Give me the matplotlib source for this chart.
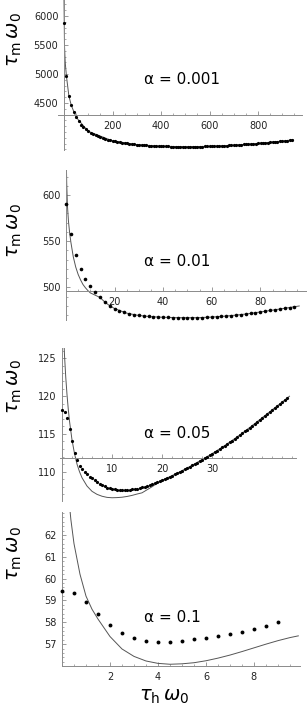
import numpy as np
import matplotlib.pyplot as plt
from matplotlib.ticker import MultipleLocator

# ---------------- data ----------------
# panel 1, alpha = 0.001 (dots every 10)
p1_dot_x = list(range(0, 950, 10))
p1_dot_y = [5885, 4966, 4626, 4460, 4345, 4255, 4185, 4128, 4082, 4044,
            4012, 3985, 3962, 3942, 3924, 3908, 3894, 3881, 3869, 3858,
            3848, 3839, 3831, 3823, 3816, 3809, 3803, 3797, 3792, 3787,
            3783, 3779, 3775, 3772, 3769, 3766, 3763, 3761, 3759, 3757,
            3755, 3754, 3752, 3751, 3750, 3749, 3748, 3748, 3747, 3747,
            3747, 3747, 3747, 3747, 3748, 3748, 3749, 3750, 3751, 3752,
            3753, 3755, 3756, 3758, 3760, 3762, 3764, 3766, 3768, 3771,
            3773, 3776, 3779, 3782, 3785, 3788, 3791, 3794, 3797, 3801,
            3804, 3808, 3811, 3815, 3819, 3823, 3827, 3831, 3835, 3840,
            3844, 3849, 3853, 3858, 3863]
p1_line_x = [0, 2, 5, 10, 20, 30, 50, 100, 200, 300, 400, 500, 600, 700, 800, 900, 945]
p1_line_y = [6300, 5500, 5200, 4966, 4626, 4460, 4255, 4012, 3848, 3783, 3755, 3747,
             3753, 3773, 3804, 3844, 3866]

# panel 2, alpha = 0.01 (dots every 2)
p2_dot_x = list(range(0, 96, 2))
p2_dot_y = [590, 558, 535, 520, 509, 501, 495, 489, 484, 480,
            477, 474.5, 473, 471.5, 470.5, 469.5, 469, 468.5, 468, 467.8,
            467.6, 467.4, 467.3, 467.2, 467.1, 467.1, 467.1, 467.2, 467.3, 467.5,
            467.8, 468.1, 468.5, 468.9, 469.4, 469.9, 470.5, 471.1, 471.8, 472.5,
            473.3, 474.1, 474.9, 475.7, 476.5, 477.3, 478.1, 479.0]
p2_line_x = [0.1, 0.3, 0.6, 1, 1.5, 2, 3, 4, 5, 6, 7, 8, 9, 10, 12, 14, 16, 18, 20,
             25, 30, 35, 40, 45, 50, 55, 60, 65, 70, 75, 80, 85, 90, 96]
p2_line_y = [640, 612, 588, 572, 559, 549, 533, 522, 514, 508, 503, 499.5, 496.5, 494,
             491.5, 489, 484, 480, 477, 472, 469.5, 468.2, 467.6, 467.2, 467.1, 467.2,
             467.8, 468.7, 469.9, 471.4, 473.3, 475.3, 477.3, 479.8]

# panel 3, alpha = 0.05 (dots every 0.5)
p3_dot_x = [i * 0.5 for i in range(91)]
p3_dot_y = [118.2, 117.9, 117.1, 115.7, 114.0, 112.5, 111.5, 110.8, 110.3, 109.95,
            109.65, 109.35, 109.1, 108.85, 108.6, 108.4, 108.2, 108.05, 107.9, 107.8,
            107.7, 107.65, 107.6, 107.58, 107.57, 107.57, 107.58, 107.6, 107.65, 107.7,
            107.77, 107.85, 107.93, 108.02, 108.12, 108.23, 108.35, 108.47, 108.6, 108.73,
            108.87, 109.01, 109.16, 109.31, 109.47, 109.63, 109.79, 109.96, 110.13, 110.3,
            110.48, 110.66, 110.84, 111.02, 111.21, 111.4, 111.59, 111.78, 111.97, 112.17,
            112.37, 112.58, 112.79, 113.0, 113.22, 113.44, 113.66, 113.89, 114.12, 114.35,
            114.59, 114.83, 115.07, 115.32, 115.57, 115.82, 116.08, 116.34, 116.6, 116.86,
            117.12, 117.38, 117.64, 117.9, 118.16, 118.42, 118.68, 118.94, 119.2, 119.46,
            119.72]
p3_line_x = [0.4, 0.5, 0.75, 1.0, 1.25, 1.5, 2.0, 2.5, 3.0, 3.5, 4.0, 5, 6, 7, 8, 9, 10,
             11, 12, 13, 14, 15, 16, 17, 18, 19, 20, 22, 24, 26, 28, 30, 32, 34, 36, 38,
             40, 42, 44, 45.5]
p3_line_y = [127.0, 125.4, 122.5, 120.2, 118.3, 116.7, 114.2, 112.4, 111.0, 110.0, 109.2,
             108.1, 107.4, 107.0, 106.75, 106.6, 106.55, 106.57, 106.62, 106.72, 106.86,
             107.04, 107.2, 107.6, 108.0, 108.45, 108.87, 109.47, 110.13, 110.84, 111.59,
             112.37, 113.22, 114.12, 115.07, 116.08, 117.12, 118.16, 119.2, 119.98]

# panel 4, alpha = 0.1 (dots every 0.5)
p4_dot_x = [i * 0.5 for i in range(19)]
p4_dot_y = [59.43, 59.36, 58.91, 58.38, 57.87, 57.52, 57.28, 57.14, 57.08, 57.08,
            57.14, 57.22, 57.28, 57.37, 57.46, 57.56, 57.69, 57.83, 58.0]
p4_line_x = [0.3, 0.37, 0.5, 0.75, 1, 1.25, 1.5, 2, 2.5, 3, 3.5, 4, 4.5, 5, 5.5, 6, 6.5,
             7, 7.5, 8, 8.5, 9, 9.5, 9.85]
p4_line_y = [63.5, 62.7, 61.6, 60.2, 59.2, 58.6, 58.15, 57.35, 56.78, 56.44, 56.23, 56.12,
             56.08, 56.1, 56.15, 56.24, 56.36, 56.5, 56.66, 56.83, 57.0, 57.16, 57.3, 57.38]

alphas = ['α = 0.001', 'α = 0.01', 'α = 0.05', 'α = 0.1']

# ---------------- layout (pixels) ----------------
W, H = 307, 713
fig = plt.figure(figsize=(W / 100, H / 100), dpi=100)

panels = [
    # left, right, top, bottom px; xlim; ylim; x-axis height; ticks
    dict(box=(58, 302, 0, 150), xlim=(-24.7, 981), ylim=(3690, 6276), y0=4290,
         xt=[200, 400, 600, 800], yt=[4500, 5000, 5500, 6000], xm=50, ym=100,
         dx=p1_dot_x, dy=p1_dot_y, lx=p1_line_x, ly=p1_line_y, ms=2.3,
         txt=(144, 80), ylab=40),
    dict(box=(66, 307, 170, 320), xlim=(0, 99.2), ylim=(464.6, 627.1), y0=495.5,
         xt=[20, 40, 60, 80], yt=[500, 550, 600], xm=5, ym=10,
         dx=p2_dot_x, dy=p2_dot_y, lx=p2_line_x, ly=p2_line_y, ms=2.6,
         txt=(144, 262), ylab=231),
    dict(box=(60, 296, 348, 501), xlim=(-0.4, 46.8), ylim=(106.12, 126.36), y0=111.77,
         xt=[10, 20, 30], yt=[110, 115, 120, 125], xm=2, ym=1,
         dx=p3_dot_x, dy=p3_dot_y, lx=p3_line_x, ly=p3_line_y, ms=2.3,
         txt=(144, 433), ylab=387),
    dict(box=(62, 300, 512, 666), xlim=(0, 9.92), ylim=(56.0, 63.05), y0=56.0,
         xt=[2, 4, 6, 8], yt=[57, 58, 59, 60, 61, 62], xm=0.5, ym=0.2,
         dx=p4_dot_x, dy=p4_dot_y, lx=p4_line_x, ly=p4_line_y, ms=2.8,
         txt=(144, 618), ylab=554),
]

axis_col = '#8a8a8a'
for p, alpha in zip(panels, alphas):
    l, r, t, b = p['box']
    ax = fig.add_axes([l / W, 1 - b / H, (r - l) / W, (b - t) / H])
    ax.patch.set_alpha(0)
    ax.plot(p['lx'], p['ly'], color='#555555', lw=0.7, zorder=2)
    ax.plot(p['dx'], p['dy'], 'o', color='black', ms=p['ms'], mew=0, zorder=3,
            clip_on=False)
    ax.set_xlim(*p['xlim'])
    ax.set_ylim(*p['ylim'])
    for s in ['top', 'right']:
        ax.spines[s].set_visible(False)
    ax.spines['left'].set_position(('data', 0))
    ax.spines['bottom'].set_position(('data', p['y0']))
    for s in ['left', 'bottom']:
        ax.spines[s].set_color(axis_col)
        ax.spines[s].set_linewidth(0.7)
    ax.set_xticks(p['xt'])
    ax.set_yticks(p['yt'])
    ax.xaxis.set_minor_locator(MultipleLocator(p['xm']))
    ax.yaxis.set_minor_locator(MultipleLocator(p['ym']))
    ax.tick_params(which='major', direction='in', length=3, width=0.6, color=axis_col,
                   labelsize=7, labelcolor='#222222', pad=4)
    ax.tick_params(which='minor', direction='in', length=1.5, width=0.5, color=axis_col)
    fig.text(p['txt'][0] / W, 1 - p['txt'][1] / H, alpha, fontsize=11,
             ha='left', va='center')
    fig.text(15 / W, 1 - p['ylab'] / H, r'$\tau_{\rm m}\,\omega_0$', fontsize=14,
             rotation=90, ha='center', va='center')

fig.text(164 / W, 1 - 697 / H, r'$\tau_{\rm h}\,\omega_0$', fontsize=14,
         ha='center', va='center')

fig.savefig('out.png', dpi=100)
